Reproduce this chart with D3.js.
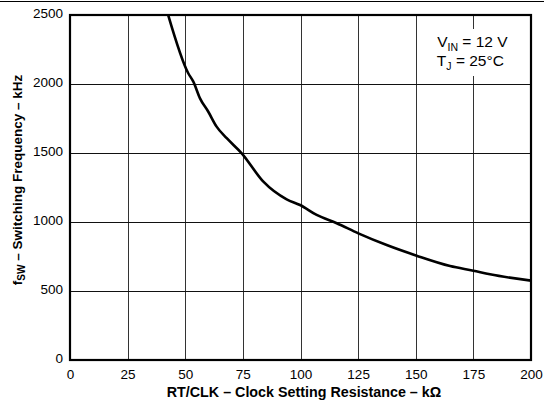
<!DOCTYPE html>
<html>
<head>
<meta charset="utf-8">
<script src="https://cdn.jsdelivr.net/npm/d3@7"></script>
<style>
  html, body { margin: 0; padding: 0; background: #fff; }
  svg { display: block; font-family: "Liberation Sans", Arial, sans-serif; }
</style>
</head>
<body>
<svg id="chart" width="544" height="403"></svg>
<script>
// Data
const resistance = [42.6, 51.3, 53.5, 56.4, 60.0, 63.6, 68.0, 74.5, 83.9, 94.0, 99.8, 107.0, 115.7, 125.1, 137.4, 150.4, 164.9, 175.0, 182.2, 200];
const frequency  = [2500, 2078, 2017, 1896, 1799, 1691, 1607, 1498, 1292, 1164, 1123, 1051, 991, 918, 833, 756, 681, 647, 621, 575];
const xTicks = [0, 25, 50, 75, 100, 125, 150, 175, 200];
const yTicks = [0, 500, 1000, 1500, 2000, 2500];
const xLabel = "RT/CLK \u2013 Clock Setting Resistance \u2013 k\u03A9";
const yLabelMain = "f";
const yLabelSub = "SW";
const yLabelRest = " \u2013 Switching Frequency \u2013 kHz";

const svg = d3.select("#chart");
const W = 544, H = 403;
const m = { left: 70, right: 13, top: 15, bottom: 43 };
const x = d3.scaleLinear().domain([0, 200]).range([m.left, W - m.right]);
const y = d3.scaleLinear().domain([0, 2500]).range([H - m.bottom, m.top]);

// page top rule
svg.append("line").attr("x1", 0).attr("x2", W).attr("y1", 1.5).attr("y2", 1.5)
  .attr("stroke", "#000").attr("stroke-width", 1);

// grid
const grid = svg.append("g");
grid.selectAll(".vg").data(xTicks.slice(1, -1)).join("line")
  .attr("x1", d => Math.round(x(d)) + 0.5).attr("x2", d => Math.round(x(d)) + 0.5)
  .attr("y1", y(2500)).attr("y2", y(0))
  .attr("stroke", "#333").attr("stroke-width", 1);
grid.selectAll(".hg").data(yTicks.slice(1, -1)).join("line")
  .attr("x1", x(0)).attr("x2", x(200))
  .attr("y1", d => Math.round(y(d)) + 0.5).attr("y2", d => Math.round(y(d)) + 0.5)
  .attr("stroke", "#111").attr("stroke-width", 1);

// annotation with white background
const ann = svg.append("g");
ann.append("rect").attr("x", x(175) - 42).attr("y", 29).attr("width", 86).attr("height", 47).attr("fill", "#fff");
const t1 = ann.append("text").attr("x", x(175) - 1).attr("y", 47).attr("text-anchor", "middle")
  .attr("font-size", 15.5).attr("fill", "#000");
t1.append("tspan").text("V");
t1.append("tspan").attr("font-size", 10.5).attr("dy", 3.5).text("IN");
t1.append("tspan").attr("dy", -3.5).text(" = 12 V");
const t2 = ann.append("text").attr("x", x(175) - 3).attr("y", 66).attr("text-anchor", "middle")
  .attr("font-size", 15.5).attr("fill", "#000");
t2.append("tspan").text("T");
t2.append("tspan").attr("font-size", 10.5).attr("dy", 3.5).text("J");
t2.append("tspan").attr("dy", -3.5).text(" = 25\u00B0C");

// frame
svg.append("rect").attr("x", x(0)).attr("y", y(2500))
  .attr("width", x(200) - x(0)).attr("height", y(0) - y(2500))
  .attr("fill", "none").attr("stroke", "#000").attr("stroke-width", 2.2);

// curve
const pts = resistance.map((r, i) => [r, frequency[i]]);
svg.append("path").datum(pts)
  .attr("d", d3.line().x(d => x(d[0])).y(d => y(d[1])).curve(d3.curveMonotoneX))
  .attr("fill", "none").attr("stroke", "#000").attr("stroke-width", 2.6)
  .attr("stroke-linejoin", "round");

// axes (labels only)
const xAxis = d3.axisBottom(x).tickValues(xTicks).tickSize(0).tickPadding(9).tickFormat(d3.format("d"));
const gx = svg.append("g").attr("transform", `translate(0,${y(0)})`).call(xAxis);
gx.select(".domain").remove();
gx.selectAll("text").attr("font-size", 13.5).attr("font-family", "Liberation Sans, Arial, sans-serif").attr("fill", "#000");

const yAxis = d3.axisLeft(y).tickValues(yTicks).tickSize(0).tickPadding(7).tickFormat(d3.format("d"));
const gy = svg.append("g").attr("transform", `translate(${x(0)},0)`).call(yAxis);
gy.select(".domain").remove();
gy.selectAll("text").attr("font-size", 13.5).attr("font-family", "Liberation Sans, Arial, sans-serif").attr("fill", "#000")
  .attr("dy", "0.2em");

// axis titles
svg.append("text").attr("x", (x(0) + x(200)) / 2 + 3.5).attr("y", 397).attr("text-anchor", "middle")
  .attr("font-size", 14.3).attr("font-weight", "bold").attr("fill", "#000").text(xLabel);

const yl = svg.append("text").attr("transform", `translate(22,180) rotate(-90)`)
  .attr("text-anchor", "middle").attr("font-size", 13.5).attr("font-weight", "bold").attr("fill", "#000");
yl.append("tspan").text(yLabelMain);
yl.append("tspan").attr("font-size", 10).attr("dy", 3).text(yLabelSub);
yl.append("tspan").attr("dy", -3).text(yLabelRest);
</script>
</body>
</html>
